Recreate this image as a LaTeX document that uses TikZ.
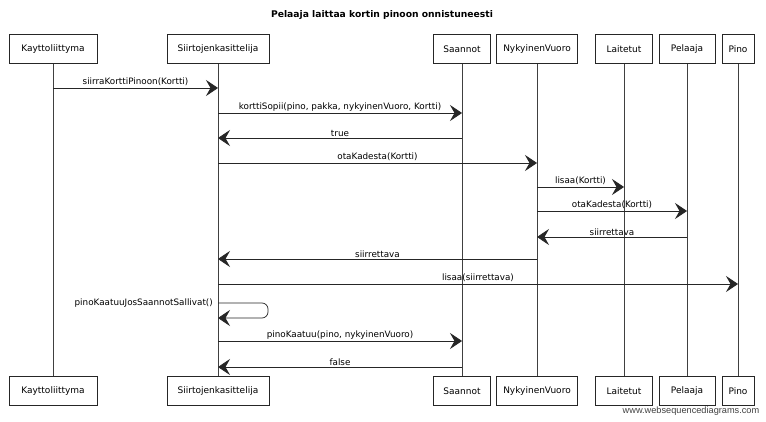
\documentclass[tikz,border=0pt]{standalone}
\usepackage{fontspec}
\setmainfont{DejaVu Sans}
\newfontfamily\wmfont{Liberation Sans}
\usetikzlibrary{arrows.meta,calc}
\begin{document}
\begin{tikzpicture}[x=1pt,y=-1pt,
  actor/.style={draw=black!85, line width=0.7pt, fill=white, minimum height=29pt,
    inner sep=0pt, font=\fontsize{9}{11}\selectfont},
  life/.style={draw=black!75, line width=0.6pt},
  msg/.style={draw=black!85, line width=0.7pt, -{Stealth[length=12pt,width=16pt,inset=4.5pt]}},
  lbl/.style={font=\fontsize{8.8}{10}\selectfont, above, inner sep=1.5pt, midway},
]
\useasboundingbox (0,0) rectangle (766,422);

\node[font=\bfseries\fontsize{9.2}{11}\selectfont] (title) at (382,15) {Pelaaja laittaa kortin pinoon onnistuneesti};

% top actors
\node[actor, minimum width=88pt] (kT) at (53,49) {Kayttoliittyma};
\node[actor, minimum width=102pt] (sT) at (218,49) {Siirtojenkasittelija};
\node[actor, minimum width=57pt] (aT) at (462,49) {Saannot};
\node[actor, minimum width=81pt] (nT) at (537,49) {NykyinenVuoro};
\node[actor, minimum width=57pt] (lT) at (624,49) {Laitetut};
\node[actor, minimum width=56pt] (pT) at (687,49) {Pelaaja};
\node[actor, minimum width=32pt] (iT) at (738,49) {Pino};

% bottom actors
\node[actor, minimum width=88pt] (kB) at (53,391) {Kayttoliittyma};
\node[actor, minimum width=102pt] (sB) at (218,391) {Siirtojenkasittelija};
\node[actor, minimum width=57pt] (aB) at (462,391) {Saannot};
\node[actor, minimum width=81pt] (nB) at (537,391) {NykyinenVuoro};
\node[actor, minimum width=57pt] (lB) at (624,391) {Laitetut};
\node[actor, minimum width=56pt] (pB) at (687,391) {Pelaaja};
\node[actor, minimum width=32pt] (iB) at (738,391) {Pino};

% lifelines
\foreach \a in {k,s,a,n,l,p,i}{
  \draw[life] (\a T.south) -- (\a B.north);
}

% message rows
\coordinate (r1) at (0,88);
\coordinate (r2) at (0,113);
\coordinate (r3) at (0,138);
\coordinate (r4) at (0,163);
\coordinate (r5) at (0,187);
\coordinate (r6) at (0,211);
\coordinate (r7) at (0,237);
\coordinate (r8) at (0,259);
\coordinate (r9) at (0,284);
\coordinate (r10) at (0,303);
\coordinate (r10b) at (0,318);
\coordinate (r11) at (0,341);
\coordinate (r12) at (0,367);

\draw[msg] (kT |- r1) -- node[lbl]{siirraKorttiPinoon(Kortti)} (sT |- r1);
\draw[msg] (sT |- r2) -- node[lbl]{korttiSopii(pino, pakka, nykyinenVuoro, Kortti)} (aT |- r2);
\draw[msg] (aT |- r3) -- node[lbl]{true} (sT |- r3);
\draw[msg] (sT |- r4) -- node[lbl]{otaKadesta(Kortti)} (nT |- r4);
\draw[msg] (nT |- r5) -- node[lbl]{lisaa(Kortti)} (lT |- r5);
\draw[msg] (nT |- r6) -- node[lbl]{otaKadesta(Kortti)} (pT |- r6);
\draw[msg] (pT |- r7) -- node[lbl]{siirrettava} (nT |- r7);
\draw[msg] (nT |- r8) -- node[lbl]{siirrettava} (sT |- r8);
\draw[msg] (sT |- r9) -- node[lbl]{lisaa(siirrettava)} (iT |- r9);
\draw[msg, rounded corners=6pt] (sT |- r10) -- ++(50,0) -- ++(0,15) -- (sT |- r10b);
\node[font=\fontsize{8.8}{10}\selectfont, anchor=east, inner sep=2pt] (selflbl) at ($(sT |- r10)+(-3,0)$) {pinoKaatuuJosSaannotSallivat()};
\draw[msg] (sT |- r11) -- node[lbl]{pinoKaatuu(pino, nykyinenVuoro)} (aT |- r11);
\draw[msg] (aT |- r12) -- node[lbl]{false} (sT |- r12);

\node[font=\wmfont\fontsize{9.2}{11}\selectfont, text=black!75] (wm) at (691,411) {www.websequencediagrams.com};
\end{tikzpicture}
\end{document}
